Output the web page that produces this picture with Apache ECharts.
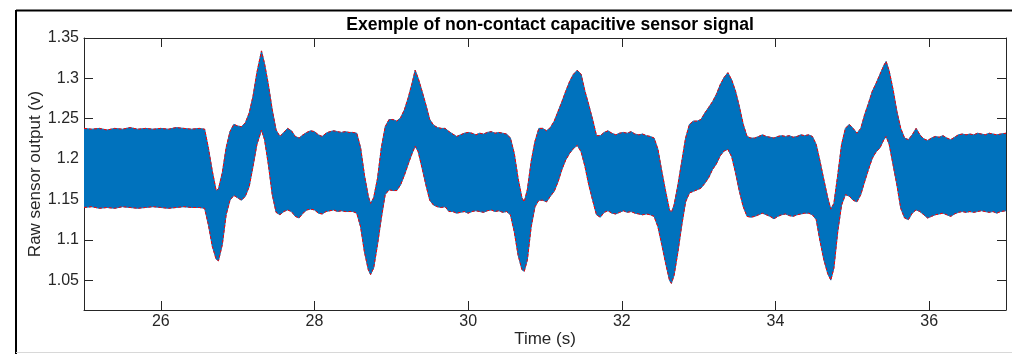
<!DOCTYPE html>
<html>
<head>
<meta charset="utf-8">
<script src="https://cdn.jsdelivr.net/npm/echarts@6/dist/echarts.min.js"></script>
<style>
html,body{margin:0;padding:0;background:#fff;}
#chart{width:1012px;height:354px;}
</style>
</head>
<body>
<div id="chart"></div>
<script>
const titleText = 'Exemple of non-contact capacitive sensor signal';
const xName = 'Time (s)';
const yName = 'Raw sensor output (v)';
const xTicks = [26, 28, 30, 32, 34, 36];
const yTicks = [1.05, 1.1, 1.15, 1.2, 1.25, 1.3, 1.35];

const times = [25.00,25.10,25.20,25.30,25.40,25.50,25.60,25.70,25.80,25.90,26.00,26.10,26.20,26.30,26.40,26.50,26.57,26.62,26.67,26.72,26.75,26.80,26.85,26.90,26.95,27.00,27.05,27.10,27.15,27.20,27.25,27.31,27.35,27.40,27.45,27.50,27.55,27.60,27.65,27.70,27.75,27.80,27.85,27.90,27.95,28.00,28.05,28.10,28.15,28.20,28.25,28.30,28.35,28.40,28.45,28.50,28.55,28.60,28.65,28.70,28.73,28.77,28.82,28.87,28.92,28.97,29.02,29.07,29.12,29.17,29.22,29.27,29.31,29.35,29.40,29.45,29.50,29.55,29.60,29.65,29.70,29.75,29.80,29.85,29.90,29.95,30.00,30.05,30.10,30.15,30.20,30.25,30.30,30.35,30.40,30.45,30.50,30.55,30.60,30.65,30.70,30.73,30.77,30.82,30.87,30.92,30.97,31.02,31.07,31.12,31.17,31.22,31.27,31.32,31.37,31.42,31.47,31.52,31.57,31.62,31.67,31.72,31.77,31.82,31.87,31.92,31.97,32.02,32.07,32.12,32.17,32.22,32.27,32.32,32.37,32.42,32.47,32.52,32.57,32.62,32.645,32.68,32.73,32.78,32.83,32.88,32.93,32.98,33.03,33.08,33.13,33.18,33.23,33.28,33.33,33.38,33.43,33.48,33.53,33.58,33.63,33.68,33.73,33.78,33.83,33.88,33.93,33.98,34.03,34.08,34.13,34.18,34.23,34.28,34.33,34.38,34.43,34.48,34.53,34.58,34.63,34.68,34.72,34.76,34.81,34.86,34.91,34.96,35.01,35.06,35.11,35.16,35.21,35.26,35.31,35.36,35.41,35.44,35.48,35.53,35.58,35.63,35.68,35.73,35.78,35.83,35.88,35.93,35.98,36.03,36.08,36.13,36.18,36.23,36.28,36.33,36.38,36.43,36.48,36.53,36.58,36.63,36.68,36.73,36.78,36.83,36.88,36.93,37.00];

const upper = [1.238,1.237,1.238,1.236,1.238,1.237,1.239,1.237,1.238,1.237,1.238,1.237,1.239,1.238,1.237,1.238,1.237,1.213,1.185,1.161,1.163,1.183,1.214,1.234,1.243,1.241,1.240,1.245,1.257,1.278,1.307,1.334,1.318,1.292,1.261,1.236,1.228,1.233,1.238,1.235,1.228,1.226,1.230,1.233,1.235,1.234,1.230,1.228,1.232,1.234,1.235,1.234,1.233,1.234,1.233,1.233,1.232,1.214,1.180,1.154,1.145,1.152,1.176,1.214,1.240,1.249,1.249,1.247,1.251,1.261,1.276,1.294,1.310,1.300,1.284,1.267,1.249,1.242,1.239,1.238,1.238,1.234,1.231,1.228,1.230,1.232,1.233,1.232,1.230,1.232,1.231,1.233,1.234,1.232,1.233,1.232,1.231,1.226,1.207,1.176,1.152,1.147,1.162,1.197,1.222,1.238,1.238,1.235,1.239,1.247,1.259,1.271,1.284,1.296,1.305,1.310,1.305,1.284,1.267,1.249,1.229,1.229,1.233,1.235,1.232,1.230,1.232,1.233,1.232,1.234,1.231,1.230,1.231,1.229,1.228,1.226,1.212,1.185,1.160,1.137,1.134,1.143,1.168,1.197,1.226,1.243,1.247,1.247,1.249,1.257,1.264,1.271,1.280,1.292,1.301,1.307,1.298,1.284,1.265,1.243,1.228,1.226,1.226,1.228,1.230,1.228,1.227,1.226,1.228,1.229,1.228,1.229,1.227,1.228,1.230,1.229,1.230,1.228,1.218,1.197,1.174,1.152,1.138,1.145,1.180,1.218,1.238,1.243,1.238,1.232,1.238,1.255,1.269,1.284,1.294,1.305,1.316,1.321,1.309,1.286,1.259,1.238,1.226,1.224,1.230,1.238,1.230,1.225,1.223,1.226,1.228,1.227,1.229,1.226,1.224,1.227,1.230,1.231,1.230,1.231,1.230,1.232,1.231,1.230,1.232,1.231,1.230,1.231,1.232];

const lower = [1.140,1.141,1.139,1.140,1.139,1.141,1.140,1.139,1.140,1.141,1.140,1.139,1.140,1.141,1.140,1.140,1.139,1.118,1.092,1.076,1.074,1.094,1.131,1.149,1.155,1.152,1.149,1.154,1.166,1.191,1.218,1.236,1.224,1.193,1.156,1.134,1.131,1.135,1.137,1.135,1.129,1.127,1.133,1.137,1.138,1.137,1.133,1.132,1.135,1.136,1.137,1.135,1.136,1.135,1.135,1.135,1.133,1.116,1.085,1.063,1.057,1.065,1.094,1.127,1.156,1.162,1.161,1.161,1.168,1.180,1.194,1.207,1.216,1.209,1.189,1.168,1.149,1.143,1.141,1.140,1.141,1.135,1.135,1.133,1.134,1.135,1.133,1.135,1.136,1.135,1.134,1.136,1.137,1.135,1.136,1.134,1.135,1.131,1.110,1.081,1.063,1.061,1.075,1.116,1.141,1.149,1.149,1.147,1.154,1.160,1.172,1.187,1.199,1.207,1.213,1.217,1.209,1.191,1.168,1.149,1.131,1.128,1.134,1.136,1.133,1.132,1.134,1.136,1.134,1.135,1.133,1.132,1.131,1.132,1.131,1.129,1.116,1.094,1.071,1.050,1.046,1.056,1.085,1.118,1.147,1.158,1.160,1.162,1.164,1.170,1.177,1.187,1.194,1.204,1.210,1.212,1.203,1.183,1.160,1.141,1.129,1.128,1.129,1.131,1.133,1.131,1.129,1.126,1.129,1.131,1.132,1.130,1.129,1.131,1.132,1.133,1.133,1.131,1.125,1.098,1.075,1.058,1.050,1.065,1.110,1.143,1.156,1.154,1.149,1.147,1.156,1.172,1.187,1.201,1.209,1.214,1.224,1.228,1.218,1.193,1.168,1.139,1.127,1.125,1.133,1.137,1.135,1.131,1.127,1.129,1.131,1.132,1.133,1.131,1.129,1.132,1.134,1.135,1.134,1.135,1.134,1.135,1.136,1.135,1.134,1.135,1.133,1.135,1.136];

const xMin = 25, xMax = 37, yMin = 1.013, yMax = 1.35;

const lowerData = times.map((t, i) => [t, lower[i]]);
const upperData = times.map((t, i) => [t, upper[i]]);
const bandData = times.map((t, i) => [t, upper[i], lower[i]]);

const FONT = 'Liberation Sans, Arial, Helvetica, sans-serif';
const AX = '#262626';
const BLUE = '#0072bd';

const chart = echarts.init(document.getElementById('chart'), null, {renderer: 'canvas'});

function xAx(pos, labels) {
  return {
    type: 'value', position: pos, min: xMin, max: xMax,
    axisLine: {show: true, onZero: false, lineStyle: {color: AX, width: 1}},
    axisTick: {show: true, inside: true, length: 9, customValues: xTicks, lineStyle: {color: AX}},
    axisLabel: {show: labels, customValues: xTicks, color: AX, fontSize: 16, fontFamily: FONT, margin: 4},
    splitLine: {show: false},
    name: labels ? xName : '', nameLocation: 'middle', nameGap: 21, nameMoveOverlap: false,
    nameTextStyle: {color: AX, fontSize: 17, fontFamily: FONT}
  };
}
function yAx(pos, labels) {
  return {
    type: 'value', position: pos, min: yMin, max: yMax,
    axisLine: {show: true, onZero: false, lineStyle: {color: AX, width: 1}},
    axisTick: {show: true, inside: true, length: 9, customValues: yTicks, lineStyle: {color: AX}},
    axisLabel: {show: labels, customValues: yTicks, color: AX, fontSize: 16, fontFamily: FONT, margin: 5},
    splitLine: {show: false},
    name: labels ? yName : '', nameLocation: 'middle', nameGap: 40, nameMoveOverlap: false,
    nameTextStyle: {color: AX, fontSize: 17, fontFamily: FONT}
  };
}

function renderBand(params, api) {
  if (params.dataIndex !== 0) return null;
  const pts = [];
  for (let i = 0; i < times.length; i++) pts.push(api.coord([times[i], upper[i]]));
  for (let i = times.length - 1; i >= 0; i--) pts.push(api.coord([times[i], lower[i]]));
  return {
    type: 'polygon',
    shape: {points: pts},
    style: {fill: BLUE, stroke: BLUE, lineWidth: 1}
  };
}

const option = {
  animation: false,
  backgroundColor: '#fff',
  title: {
    text: titleText, left: 545, top: 11, textAlign: 'center',
    textStyle: {fontSize: 17.6, fontWeight: 'bold', color: '#000', fontFamily: FONT}
  },
  grid: {left: 84, right: 6, top: 38, bottom: 44, containLabel: false},
  xAxis: [xAx('bottom', true), xAx('top', false)],
  yAxis: [yAx('left', true), yAx('right', false)],
  graphic: [
    {type: 'line', shape: {x1: 16, y1: 10.5, x2: 1012, y2: 10.5}, style: {stroke: '#000', lineWidth: 2}, silent: true},
    {type: 'line', shape: {x1: 16, y1: 10, x2: 16, y2: 354}, style: {stroke: '#000', lineWidth: 2}, silent: true},
    {type: 'line', shape: {x1: 16, y1: 352.5, x2: 1012, y2: 352.5}, style: {stroke: '#d8d8d8', lineWidth: 1}, silent: true}
  ],
  series: [
    {
      type: 'custom', name: 'signal', coordinateSystem: 'cartesian2d',
      data: bandData, encode: {x: 0, y: [1, 2]},
      renderItem: renderBand, silent: true, clip: true
    },
    {
      type: 'line', name: 'upperEnv', data: upperData, symbol: 'none',
      lineStyle: {color: '#ff0000', width: 1, type: [3, 2]}, silent: true
    },
    {
      type: 'line', name: 'lowerEnv', data: lowerData, symbol: 'none',
      lineStyle: {color: '#ff0000', width: 1, type: [3, 2]}, silent: true
    }
  ]
};
chart.setOption(option);
</script>
</body>
</html>
